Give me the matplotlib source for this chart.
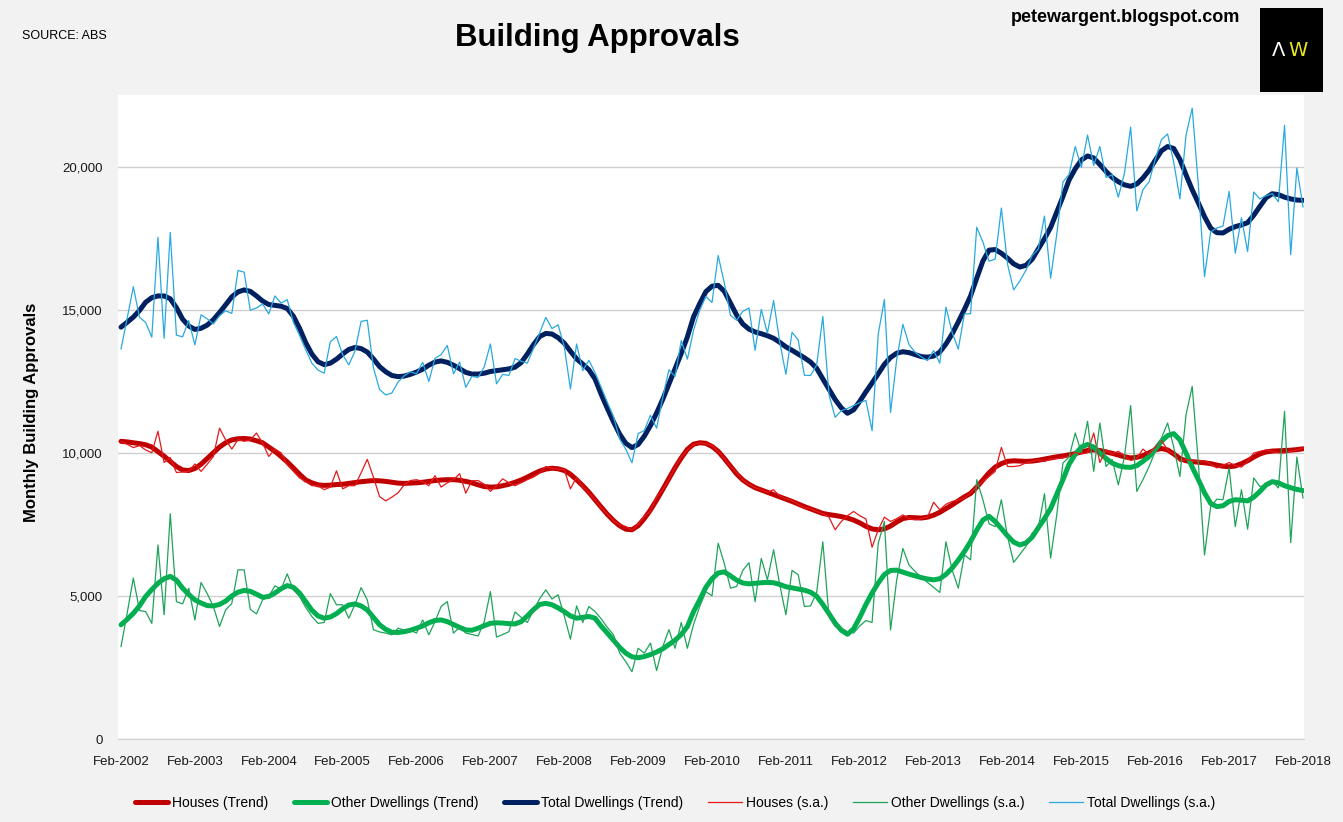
import matplotlib
matplotlib.use('Agg')
import matplotlib.pyplot as plt

# monthly data, Feb-2002 .. Feb-2018 (193 months)
houses_trend = [
    10400, 10380, 10350, 10320, 10280, 10200, 10040, 9880, 9700, 9520, 9400, 9380,
    9450, 9600, 9800, 10000, 10200, 10350, 10450, 10490, 10500, 10480, 10420, 10350,
    10200, 10050, 9870, 9680, 9470, 9250, 9050, 8950, 8880, 8860, 8870, 8890,
    8900, 8930, 8960, 8990, 9010, 9030, 9020, 9000, 8970, 8940, 8930, 8940,
    8950, 8970, 9000, 9030, 9050, 9060, 9060, 9040, 9000, 8950, 8880, 8820,
    8800, 8810, 8850, 8900, 8970, 9050, 9150, 9260, 9360, 9430, 9460, 9440,
    9380, 9250, 9060, 8850, 8620, 8360, 8100, 7850, 7630, 7450, 7330, 7310,
    7450, 7700, 8000, 8350, 8720, 9100, 9480, 9820, 10120, 10300, 10350, 10330,
    10220, 10050, 9800, 9530, 9260, 9050, 8900, 8780, 8700, 8620, 8540, 8460,
    8380, 8300, 8210, 8120, 8040, 7960, 7880, 7840, 7810, 7770, 7720, 7650,
    7550, 7430, 7340, 7310, 7340, 7440, 7580, 7700, 7740, 7730, 7720, 7750,
    7820, 7920, 8050, 8180, 8320, 8460, 8580, 8800, 9050, 9300, 9500, 9620,
    9700, 9720, 9710, 9700, 9710, 9740, 9780, 9820, 9860, 9890, 9930, 9970,
    10030, 10080, 10100, 10080, 10030, 9980, 9920, 9860, 9820, 9840, 9900, 10000,
    10100, 10150, 10100, 9960, 9800, 9720, 9690, 9670, 9650, 9620, 9570, 9530,
    9510, 9540, 9620, 9720, 9850, 9960, 10030, 10060, 10070, 10080, 10090, 10110,
    10140,
]

houses_sa = [
    10400, 10300, 10180, 10250, 10100, 10000, 10750, 9660, 9830, 9310, 9330, 9350,
    9610, 9350, 9600, 9870, 10860, 10450, 10130, 10460, 10400, 10450, 10690, 10340,
    9870, 10130, 10000, 9580, 9350, 9120, 9000, 8850, 8850, 8710, 8800, 9370,
    8740, 8850, 8850, 9300, 9770, 9150, 8470, 8320, 8450, 8600, 8880, 9030,
    9060, 9000, 8850, 9200, 8800, 8950, 9060, 9270, 8590, 9020, 9030, 8900,
    8650, 8850, 9090, 8950, 8850, 8950, 9060, 9150, 9290, 9520, 9450, 9430,
    9410, 8740, 9150, 8800, 8600, 8350, 8080, 7860, 7620, 7480, 7420, 7300,
    7500, 7780, 7960, 8470, 8700, 9080, 9500, 9850, 10100, 10280, 10350, 10310,
    10250, 10050, 9800, 9530, 9300, 9050, 8900, 8780, 8700, 8620, 8710, 8480,
    8400, 8320, 8200, 8080, 8050, 7950, 7870, 7750, 7310, 7600, 7800, 7950,
    7800, 7690, 6700, 7310, 7750, 7600, 7700, 7830, 7700, 7660, 7700, 7750,
    8270, 8010, 8200, 8300, 8350, 8420, 8600, 8820, 9000, 9170, 9350, 10190,
    9520, 9520, 9550, 9650, 9700, 9750, 9700, 9780, 9800, 9820, 9880, 10010,
    9960, 10000, 10690, 9660, 10100, 9950, 10050, 9900, 9730, 9800, 10130, 9950,
    10200, 10430, 10100, 9950, 9700, 9770, 9720, 9700, 9720, 9600, 9470, 9560,
    9660, 9550, 9500, 9700, 9990, 10050, 10100, 10050, 10000, 9990, 10060, 10100,
    10170,
]

other_trend = [
    3990, 4180, 4390, 4650, 4980, 5220, 5440, 5600, 5680, 5550, 5270, 5050,
    4860, 4750, 4660, 4650, 4700, 4820, 5000, 5130, 5190, 5160, 5060, 4950,
    4980, 5100, 5250, 5360, 5300, 5100, 4800, 4500, 4300, 4220, 4260, 4380,
    4550, 4680, 4720, 4650, 4510, 4250, 3990, 3830, 3730, 3720, 3750, 3800,
    3870, 3950, 4060, 4140, 4160, 4100, 4000, 3900, 3810, 3800, 3870, 3960,
    4040, 4060, 4050, 4030, 4020, 4100, 4300, 4520, 4700, 4740, 4690, 4580,
    4450, 4300, 4220, 4250, 4280, 4220, 3940, 3700, 3450, 3200, 3000, 2870,
    2840, 2880, 2950, 3040, 3150, 3300, 3450, 3650, 3930, 4450, 4860, 5300,
    5600, 5800, 5840, 5700, 5550, 5450, 5420, 5440, 5460, 5470, 5460, 5400,
    5320, 5280, 5240, 5200, 5130, 4990, 4700, 4380, 4050, 3800, 3660, 3850,
    4250, 4700, 5100, 5450, 5750, 5890, 5900, 5830, 5760, 5700, 5640, 5590,
    5560, 5600, 5750, 5970, 6250, 6550, 6900, 7300, 7650, 7780, 7600, 7350,
    7100, 6880, 6780, 6850, 7050, 7380, 7700, 8050, 8550, 9060, 9600, 9950,
    10200, 10290, 10200, 9990, 9800, 9640, 9550, 9500, 9490, 9550, 9700, 9870,
    10120, 10400, 10600, 10670, 10450, 9990, 9500, 9060, 8600, 8230, 8120, 8150,
    8300, 8360, 8340, 8320, 8450, 8650, 8880, 8990, 8950, 8850, 8780, 8720,
    8680,
]

other_sa = [
    3230, 4400, 5620, 4490, 4450, 4040, 6780, 4340, 7870, 4800, 4720, 5270,
    4160, 5470, 5080, 4630, 3930, 4510, 4740, 5910, 5910, 4530, 4370, 4860,
    4980, 5350, 5230, 5770, 5210, 4980, 4600, 4280, 4040, 4070, 5080, 4690,
    4690, 4220, 4700, 5290, 4860, 3820, 3740, 3700, 3640, 3870, 3810, 3800,
    3700, 4160, 3640, 4100, 4630, 4800, 3700, 3900, 3700, 3650, 3600, 4100,
    5150, 3560, 3650, 3750, 4440, 4250, 4070, 4500, 4900, 5210, 4890, 5040,
    4300, 3490, 4650, 4070, 4630, 4450, 4200, 3900, 3640, 3000, 2700, 2350,
    3170, 3000, 3350, 2390, 3230, 3820, 3170, 4070, 3170, 4000, 4630, 5150,
    5000, 6840, 6130, 5270, 5330, 5890, 6160, 4800, 6310, 5560, 6610, 5390,
    4340, 5890, 5740, 4630, 4650, 5120, 6890, 4280, 3930, 3870, 3750, 3700,
    3950, 4140, 4070, 6840, 7600, 3810, 5560, 6660, 6080, 5850, 5650, 5470,
    5300, 5120, 6890, 5910, 5270, 6430, 6260, 9060, 8360, 7520, 7420, 8360,
    7070, 6170, 6450, 6730, 7190, 7370, 8570, 6320, 7830, 9640, 9850, 10690,
    10010, 11100, 9350, 11040, 9520, 9760, 8880, 9870, 11650, 8650, 9060, 9520,
    10050, 10510, 11040, 10200, 9170, 11330, 12320, 9640, 6430, 8120, 8380, 8360,
    9470, 7420, 8710, 7330, 9120, 8820, 8880, 9000, 8770, 11450, 6860, 9850,
    8420,
]

# total dwellings = houses + other dwellings
total_trend = [h + o for h, o in zip(houses_trend, other_trend)]
total_sa = [h + o for h, o in zip(houses_sa, other_sa)]

tick_labels = ['Feb-%d' % y for y in range(2002, 2019)]

plt.rcParams['font.family'] = ['Liberation Sans', 'DejaVu Sans']

fig = plt.figure(figsize=(13.43, 8.22), dpi=100, facecolor='#f2f2f2')
ax = fig.add_axes([118 / 1343, 1 - 739 / 822, 1186 / 1343, 644 / 822])
ax.set_facecolor('white')

months = list(range(len(houses_trend)))

l1, = ax.plot(months, houses_trend, color='#c00000', lw=3.6, solid_capstyle='round', zorder=3)
l2, = ax.plot(months, other_trend, color='#00b050', lw=3.6, solid_capstyle='round', zorder=3)
l3, = ax.plot(months, total_trend, color='#002060', lw=3.6, solid_capstyle='round', zorder=3)
l4, = ax.plot(months, houses_sa, color='#e31a1c', lw=0.9, zorder=4)
l5, = ax.plot(months, other_sa, color='#1fa35a', lw=0.9, zorder=4)
l6, = ax.plot(months, total_sa, color='#29a9e0', lw=0.9, zorder=4)

ax.set_xlim(-0.49, 192.16)
ax.set_ylim(0, 22500)
ax.set_yticks([0, 5000, 10000, 15000, 20000])
ax.set_yticklabels(['{:,}'.format(v) for v in [0, 5000, 10000, 15000, 20000]])
ax.set_xticks(range(0, 193, 12))
ax.set_xticklabels(tick_labels)
ax.tick_params(axis='both', length=0, labelsize=9.5, colors='#1a1a1a')
ax.tick_params(axis='x', pad=12)
ax.tick_params(axis='y', pad=11)
ax.grid(axis='y', color='#d0d0d0', lw=1)
ax.set_axisbelow(True)
for s in ['top', 'right', 'left']:
    ax.spines[s].set_visible(False)
ax.spines['bottom'].set_color('#d0d0d0')

fig.text(32 / 1343, 1 - 412 / 822, 'Monthly Building Approvals', rotation=90,
         ha='center', va='center', fontsize=12, fontweight='bold')

fig.text(597 / 1343, 1 - 38 / 822, 'Building Approvals', ha='center', va='center',
         fontsize=22.5, fontweight='bold')
fig.text(22 / 1343, 1 - 36 / 822, 'SOURCE: ABS', ha='left', va='center', fontsize=9)
fig.text(1125 / 1343, 1 - 18 / 822, 'petewargent.blogspot.com', ha='center', va='center',
         fontsize=13, fontweight='bold')

# logo
logo = fig.add_axes([1260 / 1343, 1 - 92 / 822, 63 / 1343, 84 / 822])
logo.set_facecolor('black')
logo.set_xticks([])
logo.set_yticks([])
for s in logo.spines.values():
    s.set_visible(False)
logo.text(0.30, 0.5, '\u039b', color='white', ha='center', va='center', fontsize=14,
          family=['DejaVu Sans'])
logo.text(0.61, 0.5, 'W', color='#e8e820', ha='center', va='center', fontsize=14,
          family=['DejaVu Sans'])

fig.legend([l1, l2, l3, l4, l5, l6],
           ['Houses (Trend)', 'Other Dwellings (Trend)', 'Total Dwellings (Trend)',
            'Houses (s.a.)', 'Other Dwellings (s.a.)', 'Total Dwellings (s.a.)'],
           loc='center', bbox_to_anchor=(675 / 1343, 1 - 803 / 822), ncol=6,
           frameon=False, fontsize=10, handlelength=2.4, handletextpad=0.3,
           columnspacing=1.8)

fig.savefig('out.png', dpi=100, facecolor=fig.get_facecolor())
